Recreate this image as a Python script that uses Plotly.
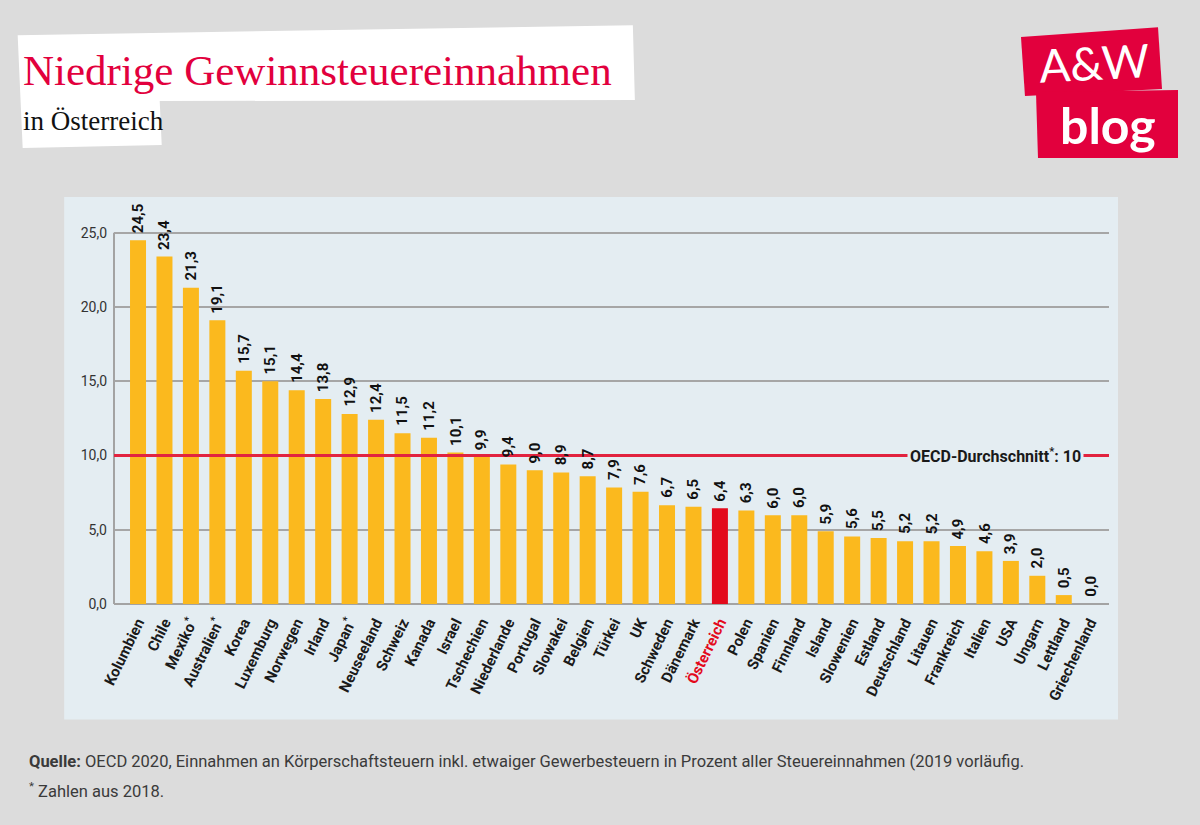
import plotly.graph_objects as go

# ---- data ----
countries = ["Kolumbien", "Chile", "Mexiko*", "Australien*", "Korea", "Luxemburg", "Norwegen",
             "Irland", "Japan*", "Neuseeland", "Schweiz", "Kanada", "Israel", "Tschechien",
             "Niederlande", "Portugal", "Slowakei", "Belgien", "Türkei", "UK", "Schweden",
             "Dänemark", "Österreich", "Polen", "Spanien", "Finnland", "Island", "Slowenien",
             "Estland", "Deutschland", "Litauen", "Frankreich", "Italien", "USA", "Ungarn",
             "Lettland", "Griechenland"]
value_labels = ["24,5", "23,4", "21,3", "19,1", "15,7", "15,1", "14,4", "13,8", "12,9", "12,4",
                "11,5", "11,2", "10,1", "9,9", "9,4", "9,0", "8,9", "8,7", "7,9", "7,6", "6,7",
                "6,5", "6,4", "6,3", "6,0", "6,0", "5,9", "5,6", "5,5", "5,2", "5,2", "4,9",
                "4,6", "3,9", "2,0", "0,5", "0,0"]
# bar heights as drawn in the picture
bar_heights = [24.5, 23.4, 21.3, 19.1, 15.7, 15.0, 14.4, 13.8, 12.8, 12.4, 11.5, 11.2, 10.2, 9.9,
               9.4, 9.0, 8.85, 8.6, 7.85, 7.55, 6.65, 6.55, 6.45, 6.3, 5.97, 5.97, 4.9, 4.55,
               4.45, 4.23, 4.23, 3.9, 3.56, 2.9, 1.9, 0.6, 0.0]
highlight = "Österreich"
oecd_avg = 10
y_ticks = [0, 5, 10, 15, 20, 25]
y_ticktext = ["0,0", "5,0", "10,0", "15,0", "20,0", "25,0"]

# ---- geometry helpers (pixels -> paper) ----
W, H = 1200, 825
L, R, B, T = 114.3, 1109.0, 604.3, 203.0
def px(x):
    return (x - L) / (R - L)
def py(y):
    return (B - y) / (B - T)

BAR = "#fbb91e"
RED = "#e30a1c"
PANEL = "#e4edf2"
FONT = "Roboto, Liberation Sans Narrow, sans-serif"

xs = list(range(len(countries)))
colors = [RED if c == highlight else BAR for c in countries]

def tick_label(c):
    if c.endswith("*"):
        return c[:-1] + "<sup>*</sup>"
    if c == highlight:
        return f'<span style="color:{RED}">{c}</span>'
    return c

fig = go.Figure()
fig.add_trace(go.Bar(x=xs, y=bar_heights, marker=dict(color=colors, line=dict(width=0)),
                     width=0.605, hoverinfo="skip"))

shapes = []
# panel background
shapes.append(dict(type="rect", xref="paper", yref="paper", x0=px(64.5), x1=px(1118),
                    y0=py(720), y1=py(197), fillcolor=PANEL, line=dict(width=0), layer="below"))
# title white boxes
path = (f"M {px(18)},{py(35)} L {px(633)},{py(25)} L {px(635)},{py(100)} L {px(160)},{py(101)} "
        f"L {px(162)},{py(145)} L {px(23)},{py(148)} Z")
shapes.append(dict(type="path", xref="paper", yref="paper", path=path, fillcolor="white",
                   line=dict(width=0), layer="below"))
# logo boxes
logo_red = "#e2003d"
p1 = (f"M {px(1021)},{py(37)} L {px(1158)},{py(27)} L {px(1162)},{py(89)} L {px(1025)},{py(96)} Z")
p2 = (f"M {px(1036)},{py(92)} L {px(1178)},{py(90)} L {px(1178)},{py(158)} L {px(1038)},{py(158)} Z")
for p in (p1, p2):
    shapes.append(dict(type="path", xref="paper", yref="paper", path=p, fillcolor=logo_red,
                       line=dict(width=0), layer="below"))
# y axis line
shapes.append(dict(type="line", xref="paper", yref="y", x0=0, x1=0, y0=0, y1=25,
                   line=dict(color="#a3a3a3", width=2)))
# OECD average line
shapes.append(dict(type="line", xref="paper", yref="y", x0=0, x1=1, y0=oecd_avg, y1=oecd_avg,
                   line=dict(color="#e2233f", width=3)))

annotations = []
for i, (h, lab) in enumerate(zip(bar_heights, value_labels)):
    annotations.append(dict(x=i, y=h, xref="x", yref="y", text=f"<b>{lab}</b>", showarrow=False,
                            textangle=-90, xanchor="center", yanchor="bottom", yshift=5,
                            font=dict(family=FONT, size=15, color="#111111")))
# OECD label
annotations.append(dict(x=px(996), y=oecd_avg, xref="paper", yref="y",
                        text="<b>OECD-Durchschnitt<sup>*</sup>: 10</b>", showarrow=False,
                        bgcolor=PANEL, borderpad=2, xanchor="center", yanchor="middle",
                        font=dict(family=FONT, size=16, color="#1a1a1a")))
# Titles
annotations.append(dict(x=px(21), y=py(70), xref="paper", yref="paper",
                        text="Niedrige Gewinnsteuereinnahmen", showarrow=False,
                        xanchor="left", yanchor="middle",
                        font=dict(family="Liberation Serif, serif", size=43,
                                  color="#e2003d")))
annotations.append(dict(x=px(21), y=py(121), xref="paper", yref="paper",
                        text="in Österreich", showarrow=False, xanchor="left", yanchor="middle",
                        font=dict(family="Liberation Serif, serif", size=27, color="#111111")))
# Logo text
annotations.append(dict(x=px(1094), y=py(62), xref="paper", yref="paper", text="A&amp;W",
                        showarrow=False, xanchor="center", yanchor="middle", textangle=-3,
                        font=dict(family="Lato, Open Sans, sans-serif", size=46, color="white")))
annotations.append(dict(x=px(1108), y=py(125), xref="paper", yref="paper", text="<b>blog</b>",
                        showarrow=False, xanchor="center", yanchor="middle",
                        font=dict(family="Lato, Open Sans, sans-serif", size=50, color="white")))
# Footnotes
annotations.append(dict(x=px(27), y=py(762), xref="paper", yref="paper",
                        text="<b>Quelle:</b> OECD 2020, Einnahmen an Körperschaftsteuern inkl. etwaiger "
                             "Gewerbesteuern in Prozent aller Steuereinnahmen (2019 vorläufig.",
                        showarrow=False, xanchor="left", yanchor="middle",
                        font=dict(family=FONT, size=16.5, color="#3a3a3a")))
annotations.append(dict(x=px(27), y=py(790), xref="paper", yref="paper",
                        text="<sup>*</sup> Zahlen aus 2018.", showarrow=False,
                        xanchor="left", yanchor="middle",
                        font=dict(family=FONT, size=16.5, color="#3a3a3a")))

fig.update_layout(
    width=W, height=H,
    margin=dict(l=L, r=W - R, t=T, b=H - B, pad=0),
    paper_bgcolor="#dcdcdc", plot_bgcolor="rgba(0,0,0,0)",
    showlegend=False, bargap=0.4,
    shapes=shapes, annotations=annotations,
    xaxis=dict(range=[-0.908, 36.71], tickmode="array", tickvals=xs,
               ticktext=[f"<b>{tick_label(c)}</b>" for c in countries],
               tickangle=-64, showgrid=False, zeroline=False, showline=False, ticks="",
               ticklabelstandoff=6,
               tickfont=dict(family=FONT, size=15, color="#1a1a1a"), fixedrange=True),
    yaxis=dict(range=[0, 27], tickmode="array", tickvals=y_ticks, ticktext=y_ticktext,
               showgrid=True, gridcolor="#a6a6a6", gridwidth=2, zeroline=True,
               zerolinecolor="#a3a3a3", zerolinewidth=2, showline=False, ticks="",
               ticklabelstandoff=6,
               tickfont=dict(family=FONT, size=14, color="#333333"), fixedrange=True),
)

fig.write_html("out.html", post_script="document.body.style.margin='0';",
               config={"displayModeBar": False})
